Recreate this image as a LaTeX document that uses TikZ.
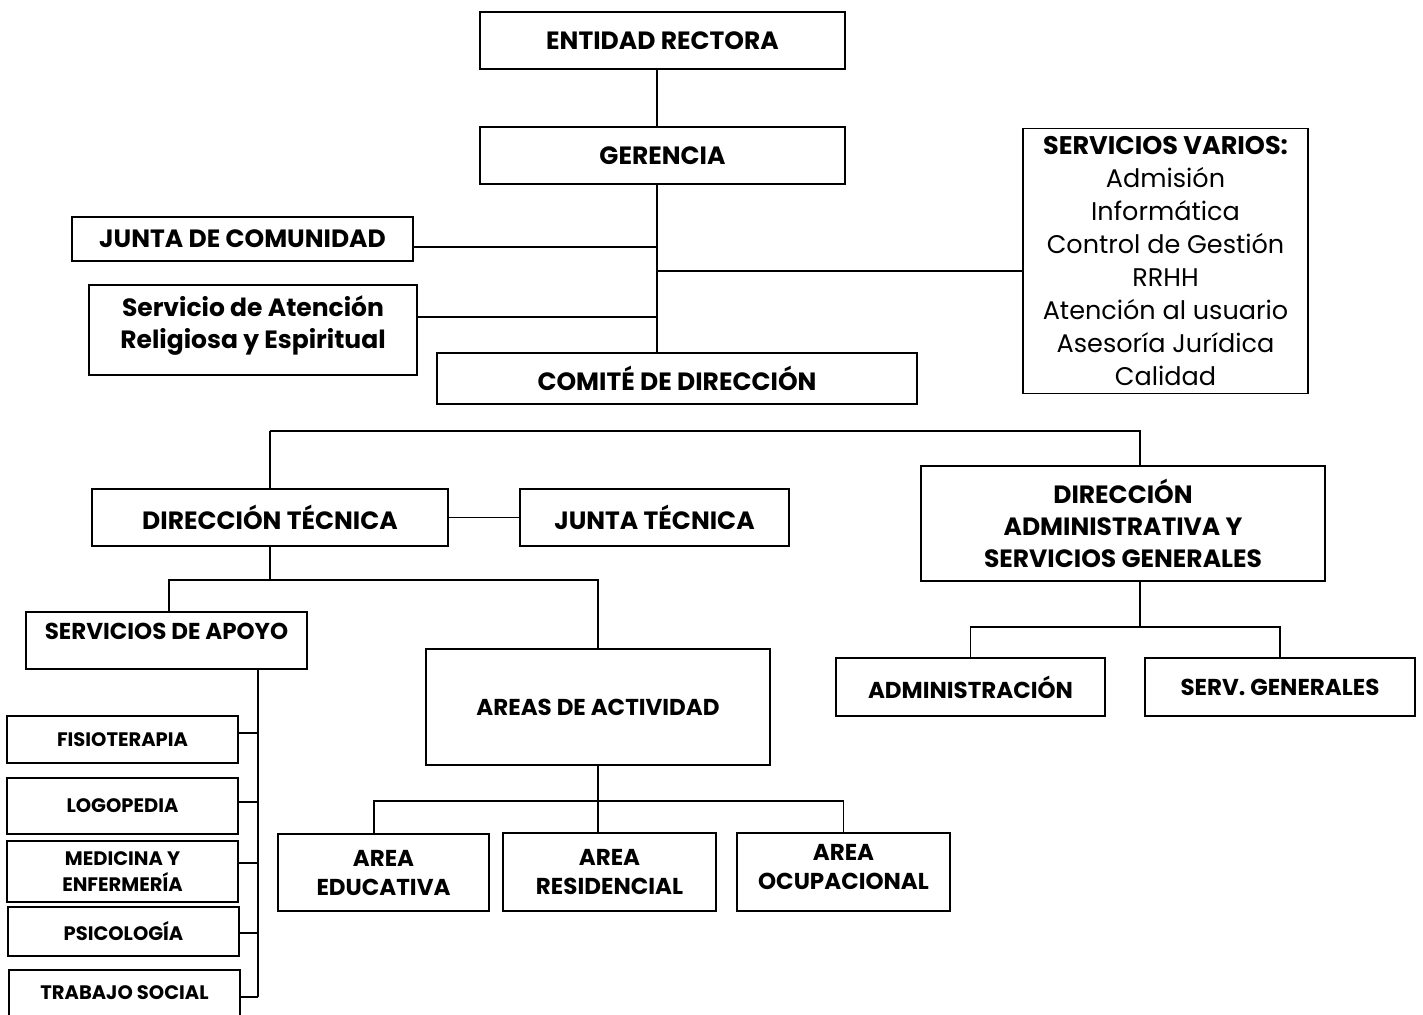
\documentclass[tikz,border=0pt]{standalone}
\usepackage{fontspec}
\setmainfont{Poppins}
\usepackage{tikz}
\usetikzlibrary{positioning}
\tikzstyle{unit} = [rectangle, draw=black, line width=1.6pt, inner sep=0pt, align=center, font=\bfseries\fontsize{25}{32}\selectfont]
\tikzstyle{subunit} = [unit, font=\bfseries\fontsize{23}{29}\selectfont]
\tikzstyle{service} = [unit, font=\bfseries\fontsize{19.5}{26}\selectfont]
\tikzstyle{link} = [line width=1.8pt]
\tikzstyle{thicklink} = [line width=2.6pt]

\begin{document}
\begin{tikzpicture}[x=1pt, y=-1pt]
\useasboundingbox (0,0) rectangle (1423,1014);
% upper part
\node (rector) [unit, minimum width=365, minimum height=57] at (662.5,40.5) {ENTIDAD RECTORA};
\node (gerencia) [unit, minimum width=365, minimum height=57] at (662.5,155.5) {GERENCIA};
\node (juntacom) [unit, minimum width=341, minimum height=44] at (242.5,239) {JUNTA DE COMUNIDAD};
\node (religiosa) [unit, minimum width=328, minimum height=90] at (253,330) {Servicio de Atención\\Religiosa y Espiritual\\[-16pt]~};
\node (comite) [unit, minimum width=480, minimum height=51] at (677,378.5) {COMITÉ DE DIRECCIÓN};
\node (varios) [unit, minimum width=285, minimum height=265, font=\fontsize{25.5}{33}\selectfont] at (1165.5,261)
  {\textbf{SERVICIOS VARIOS:}\\Admisión\\Informática\\Control de Gestión\\RRHH\\Atención al usuario\\Asesoría Jurídica\\Calidad};

% direcciones
\node (dirtec) [unit, minimum width=356, minimum height=57] at (270,517.5) {DIRECCIÓN TÉCNICA};
\node (juntatec) [unit, minimum width=269, minimum height=57] at (654.5,517.5) {JUNTA TÉCNICA};
\node (diradmin) [unit, minimum width=404, minimum height=115] at (1123,523.5) {DIRECCIÓN\\ADMINISTRATIVA Y\\SERVICIOS GENERALES};
\node (admin) [subunit, minimum width=269, minimum height=58] at (970.5,687) {ADMINISTRACIÓN};
\node (sergen) [subunit, minimum width=270, minimum height=58] at (1280,687) {SERV. GENERALES};

% servicios de apoyo
\node (apoyo) [subunit, minimum width=281, minimum height=57] at (166.5,640.5) {SERVICIOS DE APOYO\\[-10pt]~};
\node (fisio) [service, minimum width=231, minimum height=47] at (122.5,739.5) {FISIOTERAPIA};
\node (logo) [service, minimum width=231, minimum height=56] at (122.5,806) {LOGOPEDIA};
\node (medicina) [service, minimum width=231, minimum height=61] at (122.5,871.5) {MEDICINA Y\\ENFERMERÍA};
\node (psico) [service, minimum width=231, minimum height=49] at (123.5,931.5) {PSICOLOGÍA};
\node (trabajo) [service, minimum width=231, minimum height=46] at (124.5,993) {TRABAJO SOCIAL};

% areas
\node (areas) [subunit, minimum width=344, minimum height=116] at (598,707) {AREAS DE ACTIVIDAD};
\node (educativa) [subunit, minimum width=211, minimum height=77] at (383.5,872.5) {AREA\\EDUCATIVA};
\node (residencial) [subunit, minimum width=213, minimum height=78] at (609.5,872) {AREA\\RESIDENCIAL};
\node (ocupacional) [subunit, minimum width=213, minimum height=78] at (843.5,872) {AREA\\OCUPACIONAL\\[-19pt]~};

\coordinate (trunk) at (657,0);
\coordinate (dirbus) at (0,431);
\coordinate (admtrunk) at (1140,0);
\coordinate (admbus) at (0,627);
\coordinate (tecbus) at (0,580);
\coordinate (spine) at (258,0);
\coordinate (areabus) at (0,801);

\draw [link] (rector.south -| trunk) -- (gerencia.north -| trunk);
\draw [link] (gerencia.south -| trunk) -- (comite.north -| trunk);
\draw [link] ([yshift=-8pt]juntacom.east) coordinate (jc) -- (jc -| trunk);
\draw [link] ([yshift=13pt]religiosa.east) coordinate (rl) -- (rl -| trunk);
\draw [link] ([yshift=-10pt]varios.west) coordinate (sv) -- (sv -| trunk);

\draw [link] (dirtec.north |- dirbus) -- (dirtec.north);
\draw [link] (dirtec.north |- dirbus) -| (diradmin.north -| admtrunk);
\draw [link] (dirtec.east) -- (juntatec.west);

\draw [link] (diradmin.south -| admtrunk) -- (admtrunk |- admbus);
\draw [link] (admin.north) |- (sergen.north |- admbus) -- (sergen.north);

\draw [link] (dirtec.south) -- (dirtec.south |- tecbus);
\draw [thicklink] ([xshift=2.5pt]apoyo.north) |- (areas.north |- tecbus) -- (areas.north);
\draw [link] (apoyo.south -| spine) -- ([yshift=-4pt]trabajo.east -| spine);
\foreach \s/\d in {fisio/6.5, logo/4, medicina/8.5, psico/-1.5, trabajo/-4}
  \draw [link] ([yshift=\d pt]\s.east) coordinate (c) -- (c -| spine);

\draw [link] (areas.south) -- (residencial.north -| areas.south);
\draw [link] ([xshift=-9.5pt]educativa.north) |- (ocupacional.north |- areabus) -- (ocupacional.north);
\end{tikzpicture}
\end{document}
